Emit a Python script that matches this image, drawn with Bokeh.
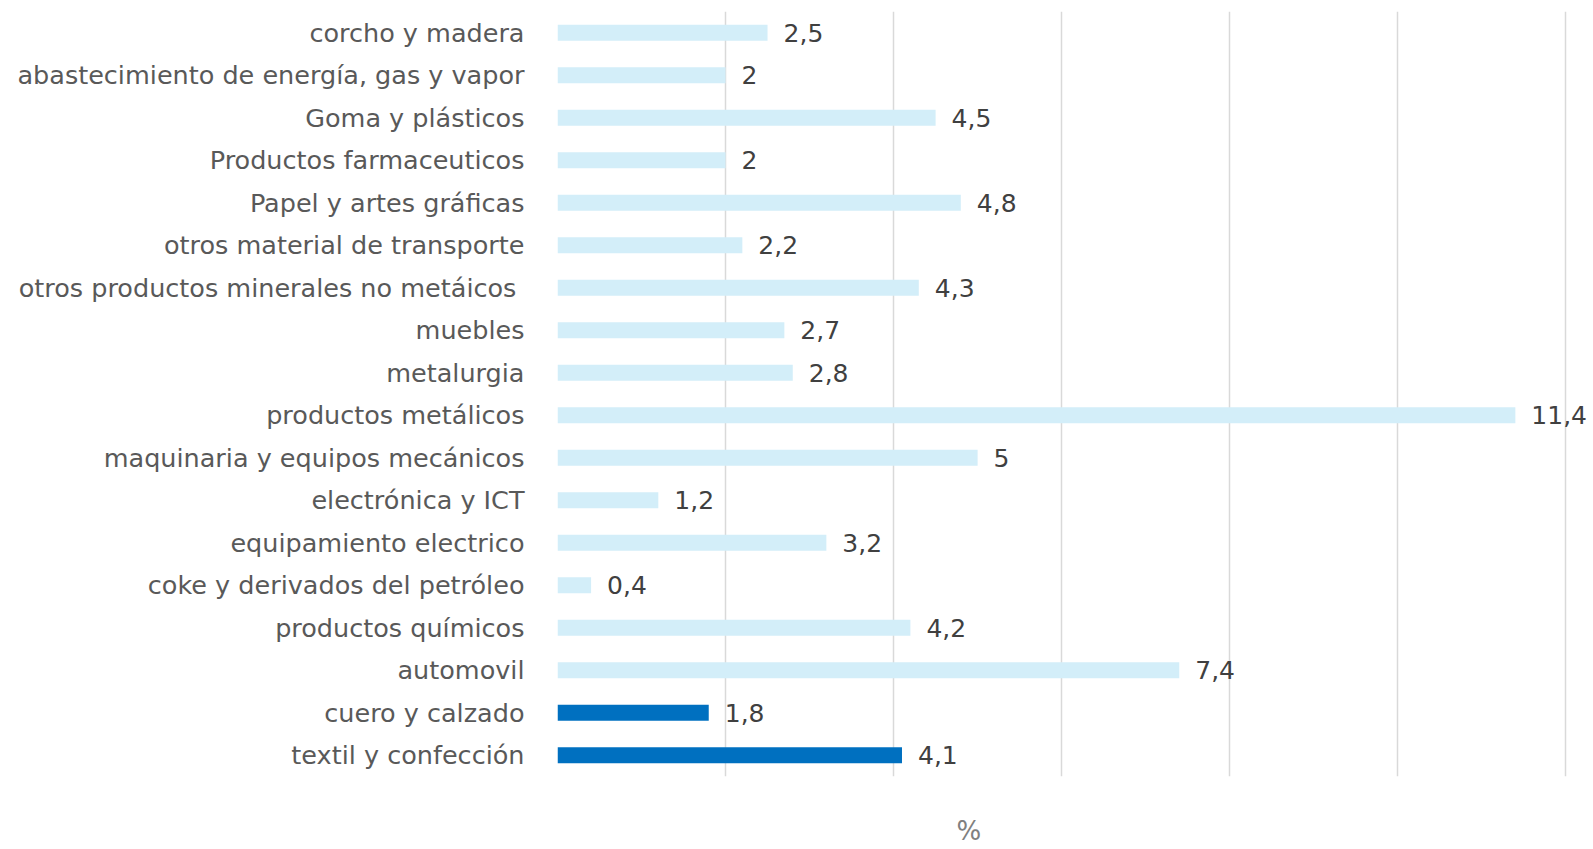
from bokeh.plotting import figure
from bokeh.models import ColumnDataSource, FixedTicker, Title
from bokeh.core.properties import value
from bokeh.embed import file_html
from bokeh.resources import INLINE

categories = [
    "textil y confección",
    "cuero y calzado",
    "automovil",
    "productos químicos",
    "coke y derivados del petróleo",
    "equipamiento electrico",
    "electrónica y ICT",
    "maquinaria y equipos mecánicos",
    "productos metálicos",
    "metalurgia",
    "muebles",
    "otros  productos minerales no metáicos",
    "otros material de transporte",
    "Papel y artes gráficas",
    "Productos farmaceuticos",
    "Goma y plásticos",
    "abastecimiento de energía, gas y vapor",
    "corcho y madera",
]
values = [4.1, 1.8, 7.4, 4.2, 0.4, 3.2, 1.2, 5, 11.4, 2.8, 2.7, 4.3, 2.2, 4.8, 2, 4.5, 2, 2.5]
highlighted = ["textil y confección", "cuero y calzado"]

DARK = "#0070C0"
LIGHT = "#D3EEF9"
FONT = "DejaVu Sans"

def fmt(v):
    s = ("%g" % v)
    return s.replace(".", ",")

src = ColumnDataSource(dict(
    cat=categories,
    val=values,
    color=[DARK if c in highlighted else LIGHT for c in categories],
    label=[fmt(v) for v in values],
))

p = figure(
    y_range=categories, x_range=(0, 12.33),
    width=1593, height=849,
    output_backend="svg", toolbar_location=None,
    min_border_left=557, min_border_right=0, min_border_top=11, min_border_bottom=73,
)
p.outline_line_color = None
p.background_fill_color = "white"
p.border_fill_color = "white"

p.hbar(y="cat", right="val", left=0, height=0.38, color="color", line_color=None, source=src)
p.text(x="val", y="cat", text="label", source=src, x_offset=16,
       text_align="left", text_baseline="middle",
       text_font=value(FONT), text_font_size="25px", text_color="#404040")

p.xaxis.ticker = FixedTicker(ticks=[0, 2, 4, 6, 8, 10, 12])
p.xaxis.visible = False
p.xgrid.grid_line_color = "#D9D9D9"
p.xgrid.grid_line_width = 1.5
p.ygrid.grid_line_color = None

p.yaxis.axis_line_color = None
p.yaxis.major_tick_line_color = None
p.yaxis.minor_tick_line_color = None
p.yaxis.major_label_standoff = 27
p.yaxis.major_label_text_font = FONT
p.yaxis.major_label_text_font_size = "25.5px"
p.yaxis.major_label_text_color = "#595959"

spacer = Title(text=" ", text_font=FONT, text_font_size="22px", standoff=10,
               text_color="white")
p.add_layout(spacer, "below")
pct = Title(text="%", align="left", offset=399, text_font=FONT, text_font_size="26px",
            text_color="#808080", text_font_style="normal", standoff=0)
p.add_layout(pct, "below")

open("out.html", "w").write(file_html(p, INLINE))
